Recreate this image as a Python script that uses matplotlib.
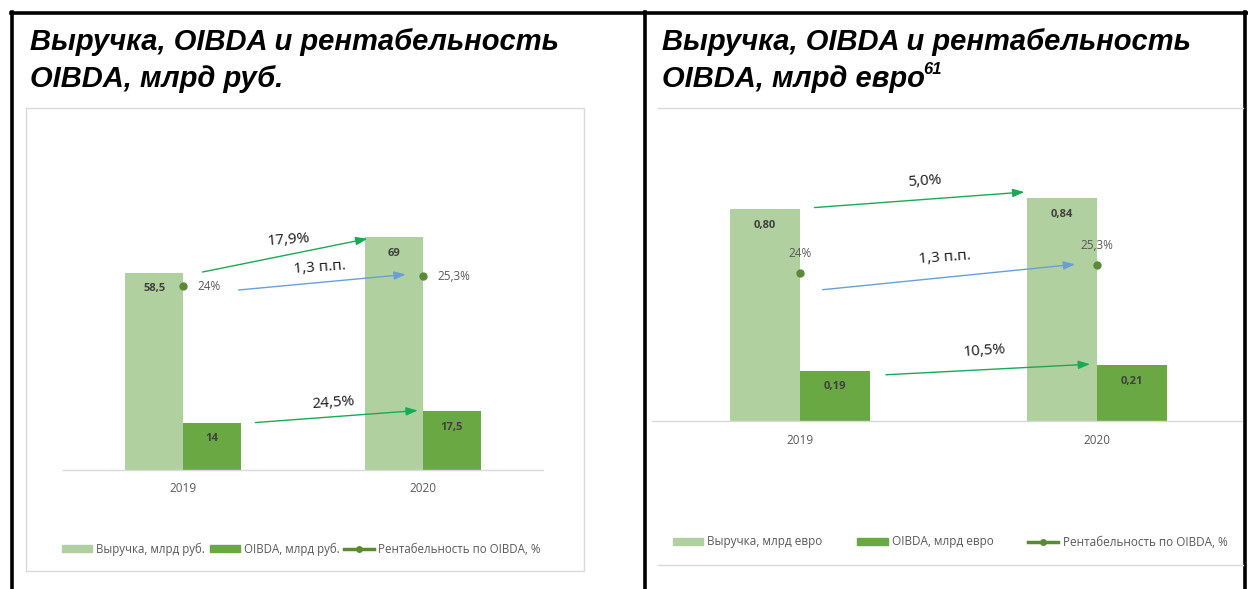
import matplotlib
matplotlib.use("Agg")
import matplotlib.pyplot as plt
from matplotlib.lines import Line2D
from matplotlib.patches import Rectangle, Patch

# ------------------------------------------------------------
# DATA
# ------------------------------------------------------------
years = ["2019", "2020"]

revenue_rub = [58.5, 69]
oibda_rub = [14, 17.5]
revenue_rub_labels = ["58,5", "69"]
oibda_rub_labels = ["14", "17,5"]

revenue_eur = [0.80, 0.84]
oibda_eur = [0.19, 0.21]
revenue_eur_labels = ["0,80", "0,84"]
oibda_eur_labels = ["0,19", "0,21"]

margin = [24, 25.3]
margin_labels = ["24%", "25,3%"]

growth_rub = ["17,9%", "24,5%", "1,3 п.п."]
growth_eur = ["5,0%", "10,5%", "1,3 п.п."]

# ------------------------------------------------------------
# STYLE
# ------------------------------------------------------------
W, H = 1248, 589
C_REV = "#b1d0a0"
C_OIBDA = "#6aa844"
C_DOT = "#5a8a38"
C_GREEN_ARROW = "#1aaa55"
C_BLUE_ARROW = "#6a9fd6"
C_GRAY = "#595959"
CHART_FONT = ["Open Sans", "DejaVu Sans"]
TITLE_FONT = ["Liberation Sans", "DejaVu Sans"]

fig = plt.figure(figsize=(W / 100, H / 100), dpi=100)
fig.patch.set_facecolor("white")


def fx(x):
    return x / W


def fy(y):
    return 1 - y / H


def hline(x0, x1, y, color, lw):
    fig.add_artist(Line2D([fx(x0), fx(x1)], [fy(y), fy(y)], color=color, lw=lw,
                          transform=fig.transFigure))


def vline(x, y0, y1, color, lw):
    fig.add_artist(Line2D([fx(x), fx(x)], [fy(y0), fy(y1)], color=color, lw=lw,
                          transform=fig.transFigure))


# outer table frame
hline(11, 1247, 13, "black", 2.6)
vline(12, 12, H, "black", 2.6)
vline(645, 12, H, "black", 2.6)
vline(1245, 12, H, "black", 2.6)

# chart frames
fig.add_artist(Rectangle((fx(26), fy(571)), fx(584) - fx(26), fy(108) - fy(571),
                         transform=fig.transFigure, fill=False,
                         edgecolor="#d9d9d9", lw=1.0))
hline(658, 1243, 108, "#d9d9d9", 1.0)
hline(658, 1243, 565, "#d9d9d9", 1.0)

# titles
for x0, unit in [(30, "руб."), (662, "евро")]:
    fig.text(fx(x0), fy(42), "Выручка, OIBDA и рентабельность", family=TITLE_FONT,
             fontsize=21, fontweight="bold", style="italic", va="center")
    t2 = fig.text(fx(x0), fy(79), f"OIBDA, млрд {unit}", family=TITLE_FONT,
                  fontsize=21, fontweight="bold", style="italic", va="center")
    if unit == "евро":
        fig.canvas.draw()
        bb = t2.get_window_extent()
        fig.text(bb.x1 / W - 0.001, fy(70), "61", family=TITLE_FONT, fontsize=12,
                 fontweight="bold", style="italic", va="center")


def draw_chart(rect, rev, oibda, rev_lbl, oibda_lbl, growth, ylim, y2lim, bw,
               margin_above, rev_arrow, oibda_arrow, m_arrow, lbl_pos, leg_kw,
               units):
    ax = fig.add_axes(rect)
    ax2 = ax.twinx()
    x = [0, 1]
    ax.bar([i - bw / 2 for i in x], rev, width=bw, color=C_REV, label=f"Выручка, млрд {units}")
    ax.bar([i + bw / 2 for i in x], oibda, width=bw, color=C_OIBDA, label=f"OIBDA, млрд {units}")
    ax2.plot(x, margin, color=C_DOT, lw=0, marker="o", markersize=5)

    ax.set_xlim(-0.5, 1.5)
    ax.set_ylim(*ylim)
    ax2.set_ylim(*y2lim)
    for a in (ax, ax2):
        for s in ["top", "left", "right"]:
            a.spines[s].set_visible(False)
        a.set_yticks([])
    ax2.spines["bottom"].set_visible(False)
    ax.spines["bottom"].set_color("#d9d9d9")
    ax.spines["bottom"].set_linewidth(1.0)
    ax.set_xticks(x)
    ax.set_xticklabels(years, family=CHART_FONT, fontsize=8.5, color=C_GRAY)
    ax.tick_params(axis="x", length=0, pad=9)
    ax.patch.set_alpha(0)

    # value labels
    off = ylim[1] * 0.06
    for i in x:
        ax.text(i - bw / 2, rev[i] - off, rev_lbl[i], ha="center", va="center",
                family=CHART_FONT, fontsize=8, fontweight="bold", color="#404040")
        ax.text(i + bw / 2, oibda[i] - off, oibda_lbl[i], ha="center", va="center",
                family=CHART_FONT, fontsize=8, fontweight="bold", color="#404040")
        if margin_above:
            ax2.text(i, margin[i] + y2lim[1] * 0.07, margin_labels[i], ha="center",
                     va="center", family=CHART_FONT, fontsize=8.5, color=C_GRAY)
        else:
            ax2.text(i + 0.06, margin[i], margin_labels[i], ha="left", va="center",
                     family=CHART_FONT, fontsize=8.5, color=C_GRAY)

    # growth arrows
    (rx0, rdy0, rx1, rdy1) = rev_arrow
    ax.annotate("", xy=(rx1, rev[1] + rdy1), xytext=(rx0, rev[0] + rdy0),
                arrowprops=dict(arrowstyle="-|>,head_length=0.7,head_width=0.25",
                                color=C_GREEN_ARROW, lw=1.0))
    (ox0, ody0, ox1, ody1) = oibda_arrow
    ax.annotate("", xy=(ox1, oibda[1] + ody1), xytext=(ox0, oibda[0] + ody0),
                arrowprops=dict(arrowstyle="-|>,head_length=0.7,head_width=0.25",
                                color=C_GREEN_ARROW, lw=1.0))
    (mx0, mdy0, mx1, mdy1) = m_arrow
    ax2.annotate("", xy=(mx1, margin[1] + mdy1), xytext=(mx0, margin[0] + mdy0),
                 arrowprops=dict(arrowstyle="-|>,head_length=0.7,head_width=0.25",
                                 color=C_BLUE_ARROW, lw=1.0))

    for txt, (lx, ly) in zip(growth, lbl_pos):
        fig.text(fx(lx), fy(ly), txt, ha="center", va="center", family=CHART_FONT,
                 fontsize=11, color="#1a1a1a", rotation=4)

    handles = [Patch(color=C_REV), Patch(color=C_OIBDA),
               Line2D([], [], color=C_DOT, lw=2.5, marker="o", markersize=4)]
    names = [f"Выручка, млрд {units}", f"OIBDA, млрд {units}", "Рентабельность по OIBDA, %"]
    fig.legend(handles, names, ncol=3, frameon=False, prop={"family": CHART_FONT, "size": leg_kw.pop("size")},
               labelcolor=C_GRAY, handlelength=2.6, handleheight=0.6, handletextpad=0.35,
               **leg_kw)


# left chart: baseline y=470, categories at x=183/423 px
draw_chart(rect=[fx(63), fy(470), fx(543) - fx(63), fy(200) - fy(470)],
           rev=revenue_rub, oibda=oibda_rub,
           rev_lbl=revenue_rub_labels, oibda_lbl=oibda_rub_labels,
           growth=growth_rub, ylim=(0, 80), y2lim=(0, 35.3), bw=0.24,
           margin_above=False,
           rev_arrow=(0.07, 0, 0.78, -0.3),
           oibda_arrow=(0.29, 0, 0.99, 0.2),
           m_arrow=(0.22, -0.5, 0.94, 0.3),
           lbl_pos=[(289, 240), (333, 403), (320, 268)],
           leg_kw=dict(loc="center left", bbox_to_anchor=(fx(52), fy(549)),
                       columnspacing=0.4, size=8.3),
           units="руб.")

# right chart: baseline y=421, categories at x=800/1097 px
draw_chart(rect=[fx(651.5), fy(421), fx(1245.5) - fx(651.5), fy(150) - fy(421)],
           rev=revenue_eur, oibda=oibda_eur,
           rev_lbl=revenue_eur_labels, oibda_lbl=oibda_eur_labels,
           growth=growth_eur, ylim=(0, 1.023), y2lim=(0, 43.85), bw=0.237,
           margin_above=True,
           rev_arrow=(0.04, 0.005, 0.765, 0.025),
           oibda_arrow=(0.28, -0.016, 0.986, 0.005),
           m_arrow=(0.067, -2.8, 0.936, 0.1),
           lbl_pos=[(925, 181), (985, 351), (945, 258)],
           leg_kw=dict(loc="center left", bbox_to_anchor=(fx(662), fy(542)),
                       columnspacing=2.9, size=8.5),
           units="евро")

fig.savefig("out.png", dpi=100)
